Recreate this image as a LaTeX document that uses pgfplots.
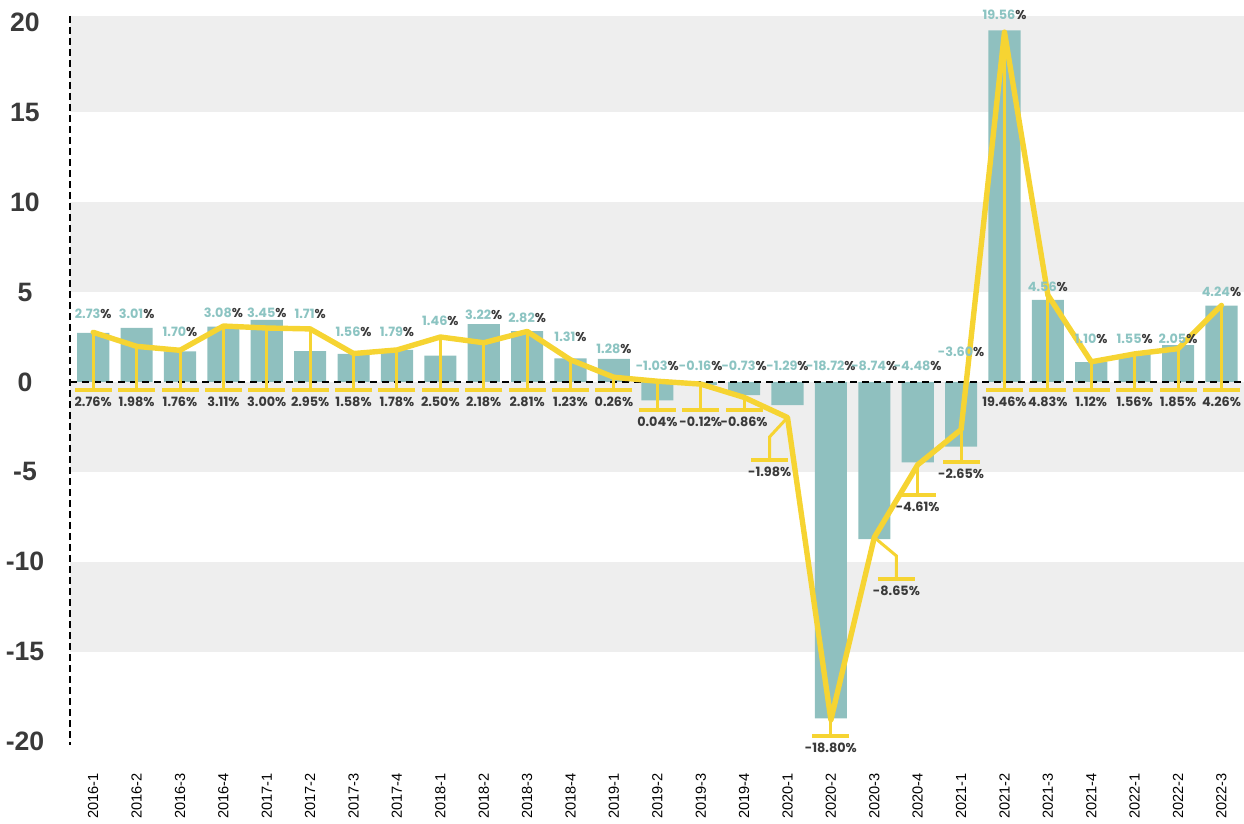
\documentclass[border=0pt]{standalone}
\usepackage{pgfplots}
\pgfplotsset{compat=1.18}
\usepackage{pgfplotstable}
\usepackage{fontspec}
\setmainfont{Liberation Sans}
\newfontfamily\pop{Poppins}
\definecolor{barteal}{RGB}{143,192,191}
\definecolor{labteal}{RGB}{140,196,194}
\definecolor{yel}{RGB}{246,212,50}
\definecolor{band}{RGB}{238,238,238}
\definecolor{dark}{RGB}{58,58,58}

% x: category index, bar: bar value, line: line value, cap: end of the leader,
% ly: height of the bar's value label, lx: x of the line's value label
\pgfplotstableread{
x bar line cap ly lx
0 2.73 2.76 -0.45 3.77 0
1 3.01 1.98 -0.45 3.77 1
2 1.70 1.76 -0.45 2.80 2
3 3.08 3.11 -0.45 3.86 3
4 3.45 3.00 -0.45 3.86 4
5 1.71 2.95 -0.45 3.80 5
6 1.56 1.58 -0.45 2.80 6
7 1.79 1.78 -0.45 2.80 7
8 1.46 2.50 -0.45 3.39 8
9 3.22 2.18 -0.45 3.71 9
10 2.82 2.81 -0.45 3.54 10
11 1.31 1.23 -0.45 2.49 11
12 1.28 0.26 -0.45 1.82 12
13 -1.03 0.04 -1.55 0.89 13
14 -0.16 -0.12 -1.55 0.89 14
15 -0.73 -0.86 -1.55 0.89 15
16 -1.29 -1.98 -4.34 0.89 15.59
17 -18.72 -18.80 -19.70 0.89 17
18 -8.74 -8.65 -10.96 0.89 18.51
19 -4.48 -4.61 -6.28 0.89 19
20 -3.60 -2.65 -4.45 1.67 20
21 19.56 19.46 -0.45 20.42 21
22 4.56 4.83 -0.45 5.30 22
23 1.10 1.12 -0.45 2.39 23
24 1.55 1.56 -0.45 2.39 24
25 2.05 1.85 -0.45 2.39 25
26 4.24 4.26 -0.45 4.99 26
}\data

% straight leaders (all but 2020-1 and 2020-3)
\pgfplotstableread{
x line cap
0 2.76 -0.45
1 1.98 -0.45
2 1.76 -0.45
3 3.11 -0.45
4 3.00 -0.45
5 2.95 -0.45
6 1.58 -0.45
7 1.78 -0.45
8 2.50 -0.45
9 2.18 -0.45
10 2.81 -0.45
11 1.23 -0.45
12 0.26 -0.45
13 0.04 -1.55
14 -0.12 -1.55
15 -0.86 -1.55
17 -18.80 -19.70
19 -4.61 -6.28
20 -2.65 -4.45
21 19.46 -0.45
22 4.83 -0.45
23 1.12 -0.45
24 1.56 -0.45
25 1.85 -0.45
26 4.26 -0.45
}\stems

\begin{document}
\begin{tikzpicture}
\begin{axis}[
  name=ax,
  at={(0,0)}, anchor=south west,
  width=587pt, height=364.5pt, scale only axis,
  xmin=-0.535, xmax=26.52,
  ymin=-20.2, ymax=20.36,
  clip=false,
  axis lines*=left,
  x axis line style={draw=none},
  y axis line style={draw=none},
  major tick length=0pt,
  xtick={0,...,26},
  xticklabels={2016-1,2016-2,2016-3,2016-4,2017-1,2017-2,2017-3,2017-4,2018-1,2018-2,2018-3,2018-4,2019-1,2019-2,2019-3,2019-4,2020-1,2020-2,2020-3,2020-4,2021-1,2021-2,2021-3,2021-4,2022-1,2022-2,2022-3},
  xticklabel style={rotate=90, anchor=east, inner sep=0pt, font=\fontsize{7.3}{8}\selectfont, text=black},
  xticklabel shift=14pt,
  ytick={-20,-15,-10,-5,0,5,10,15,20},
  yticklabels={-20,-15,-10,-5,0,5,10,15,20},
  yticklabel style={anchor=center, xshift=-22.5pt, inner sep=0pt, font=\fontsize{13.3}{14}\selectfont\bfseries, text=dark},
]
% background bands
\fill[band] (axis cs:-0.535,15) rectangle (axis cs:26.52,20.36);
\fill[band] (axis cs:-0.535,5) rectangle (axis cs:26.52,10);
\fill[band] (axis cs:-0.535,-5) rectangle (axis cs:26.52,0);
\fill[band] (axis cs:-0.535,-15) rectangle (axis cs:26.52,-10);
% dashed left axis line
\draw[black, line width=0.55pt, dash pattern=on 3.5pt off 2pt] (axis cs:-0.535,20.36) -- (axis cs:-0.535,-20.2);

% bars
\addplot[ybar, bar width=0.74, bar shift=0pt, fill=barteal, draw=none] table[x=x, y=bar] {\data};

% zero line
\draw[black, line width=0.9pt, dash pattern=on 3.5pt off 2.5pt] (axis cs:-0.535,0) -- (axis cs:26.52,0);

% bar value labels
\addplot[draw=none, mark=none, point meta=explicit symbolic,
  nodes near coords={{\color{labteal}\pgfplotspointmeta}{\color{dark}\%}},
  every node near coord/.append style={anchor=center, inner sep=0pt, font=\pop\bfseries\fontsize{6.4}{7}\selectfont}]
  table[x=x, y=ly, meta=bar] {\data};

% line value labels
\addplot[draw=none, mark=none, point meta=explicit symbolic,
  nodes near coords={\color{dark}\pgfplotspointmeta\%},
  every node near coord/.append style={anchor=north, inner sep=0pt, yshift=-3.5pt, font=\pop\bfseries\fontsize{6.4}{7}\selectfont}]
  table[x=lx, y=cap, meta=line] {\data};

% leaders with caps
\addplot[draw=none, mark=none,
  error bars/.cd, y dir=minus, y explicit,
  error bar style={draw=yel, line width=1.5pt},
  error mark options={draw=yel, line width=2pt, mark size=9.25pt, rotate=90}]
  table[x=x, y=line, y error minus expr=\thisrow{line}-\thisrow{cap}] {\stems};
\addplot[yel, line width=1.5pt, mark=none] coordinates {(16,-1.98) (15.59,-3.05) (15.59,-4.34)};
\addplot[yel, line width=2pt, mark=none] coordinates {(15.164,-4.34) (16.016,-4.34)};
\addplot[yel, line width=1.5pt, mark=none] coordinates {(18,-8.65) (18.51,-9.68) (18.51,-10.96)};
\addplot[yel, line width=2pt, mark=none] coordinates {(18.084,-10.96) (18.936,-10.96)};

% main line
\addplot[yel, line width=2.7pt, mark=none, line join=round, line cap=round] table[x=x, y=line] {\data};
\end{axis}
\pgfresetboundingbox
\path ([shift={(-35pt,-39pt)}]ax.south west) rectangle ([shift={(0pt,8pt)}]ax.north east);
\end{tikzpicture}
\end{document}
